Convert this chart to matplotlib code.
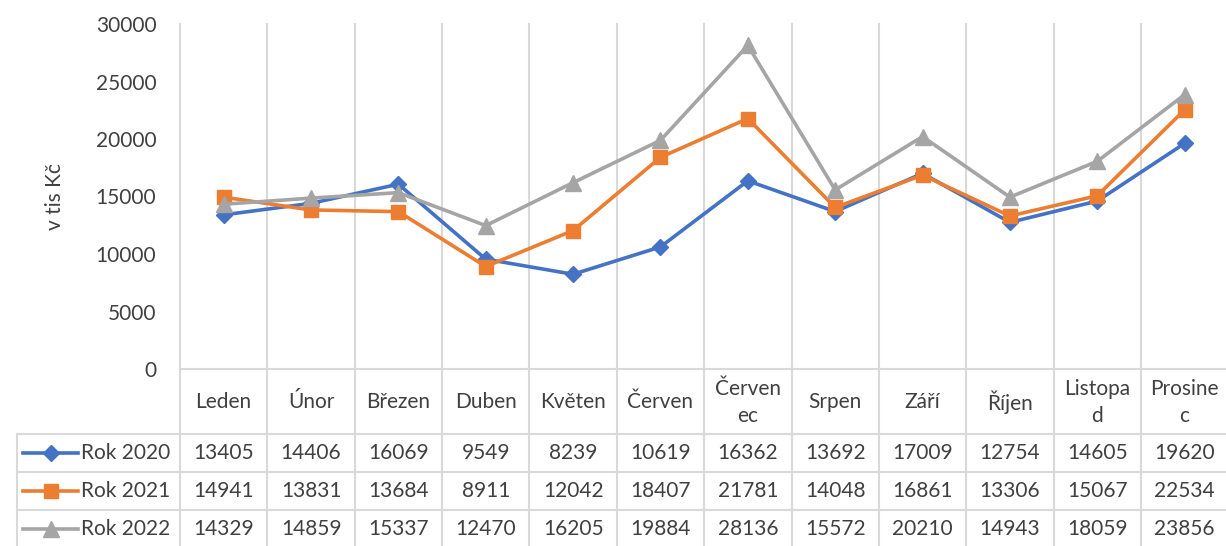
import matplotlib
matplotlib.use("Agg")
import matplotlib.pyplot as plt

months = ["Leden", "Únor", "Březen", "Duben", "Květen", "Červen",
          "Červen\nec", "Srpen", "Září", "Říjen", "Listopa\nd", "Prosine\nc"]
series_names = ["Rok 2020", "Rok 2021", "Rok 2022"]
rok2020 = [13405, 14406, 16069, 9549, 8239, 10619, 16362, 13692, 17009, 12754, 14605, 19620]
rok2021 = [14941, 13831, 13684, 8911, 12042, 18407, 21781, 14048, 16861, 13306, 15067, 22534]
rok2022 = [14329, 14859, 15337, 12470, 16205, 19884, 28136, 15572, 20210, 14943, 18059, 23856]
yticks = [0, 5000, 10000, 15000, 20000, 25000, 30000]
ylabel = "v tis Kč"

colors = ["#4472C4", "#ED7D31", "#A5A5A5"]
markers = ["D", "s", "^"]
msizes = [8, 10, 11]
grid_c = "#D9D9D9"
text_c = "#404040"
fs = 15

plt.rcParams["font.family"] = ["Lato", "DejaVu Sans"]

W, H = 1226, 546
fig = plt.figure(figsize=(W / 100, H / 100), dpi=100)

def fx(px):
    return px / W

def fy(py):
    return 1 - py / H

left_px, right_px = 180, 1228.3
top_px, axis_px, bottom_px = 24, 369, 548
n = len(months)

ax = fig.add_axes([fx(left_px), fy(axis_px), fx(right_px - left_px), (axis_px - top_px) / H])
ax.set_xlim(-0.5, n - 0.5)
ax.set_ylim(0, 30000)
for s in ax.spines.values():
    s.set_visible(False)
ax.set_xticks([])
ax.set_yticks(yticks)
ax.set_yticklabels([str(t) for t in yticks], fontsize=fs, color=text_c)
ax.tick_params(axis="y", length=0, pad=17)
ax.set_ylabel(ylabel, fontsize=fs, color=text_c, labelpad=22)

for i, (vals, c, m, ms) in enumerate(zip([rok2020, rok2021, rok2022], colors, markers, msizes)):
    ax.plot(range(n), vals, color=c, lw=2.6, marker=m, markersize=ms,
            markerfacecolor=c, markeredgecolor=c, zorder=3 + i, clip_on=False)

# table axes: y in pixel offsets below axis line
tab = fig.add_axes([fx(left_px), fy(bottom_px), fx(right_px - left_px), (bottom_px - axis_px) / H])
tab.set_xlim(-0.5, n - 0.5)
tab.set_ylim(bottom_px - axis_px, 0)
tab.axis("off")

row_edges = [0, 65, 103, 141, 179]
cat_w = (right_px - left_px) / n
legend_left = (17 - left_px) / cat_w - 0.5

# vertical gridlines spanning plot and table
for k in range(n + 1):
    xk = k - 0.5
    ax.axvline(xk, color=grid_c, lw=1.5, zorder=1, clip_on=False)
    tab.plot([xk, xk], [0, 179], color=grid_c, lw=1.5, clip_on=False)
# horizontal lines
tab.plot([-0.5, n - 0.5], [0, 0], color=grid_c, lw=1.5, clip_on=False)
for y in row_edges[1:]:
    tab.plot([legend_left, n - 0.5], [y, y], color=grid_c, lw=1.5, clip_on=False)
tab.plot([legend_left, legend_left], [row_edges[1], 179], color=grid_c, lw=1.5, clip_on=False)

# header
for k, mth in enumerate(months):
    tab.text(k, (row_edges[0] + row_edges[1]) / 2 + 1, mth, ha="center", va="center",
             fontsize=fs, color=text_c, linespacing=1.4)

# data rows
for r, (vals, name, c, m, ms) in enumerate(zip([rok2020, rok2021, rok2022], series_names,
                                               colors, markers, msizes)):
    yc = (row_edges[r + 1] + row_edges[r + 2]) / 2
    for k, v in enumerate(vals):
        tab.text(k, yc, str(v), ha="center", va="center", fontsize=fs, color=text_c)
    x0 = legend_left + (23 - 17) / cat_w
    x1 = legend_left + (78 - 17) / cat_w
    tab.plot([x0, x1], [yc, yc], color=c, lw=2.6, clip_on=False)
    tab.plot([(x0 + x1) / 2], [yc], marker=m, markersize=ms, color=c, clip_on=False)
    tab.text(legend_left + (81 - 17) / cat_w, yc, name, ha="left", va="center",
             fontsize=fs, color=text_c)

fig.savefig("out.png", dpi=100)
